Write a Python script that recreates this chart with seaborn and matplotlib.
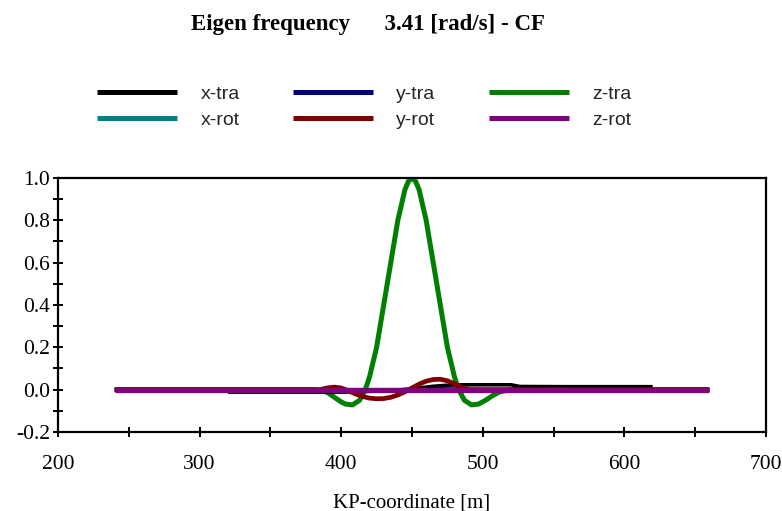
import numpy as np
import pandas as pd
import matplotlib
matplotlib.use("Agg")
import matplotlib.pyplot as plt
from matplotlib.ticker import MultipleLocator, FuncFormatter
from matplotlib.lines import Line2D
import seaborn as sns

# Mode shape components along the pipeline (KP-coordinate in m)
kp_x_tra = [320, 360, 400, 420, 440, 455, 465, 475, 485, 500, 520, 526, 560, 600, 620]
x_tra = [-0.012, -0.012, -0.012, -0.008, -0.002, 0.008, 0.016, 0.021, 0.023, 0.023, 0.023,
         0.015, 0.014, 0.014, 0.014]

kp_y_tra = [240, 400, 430, 450, 470, 500, 660]
y_tra = [0.0, 0.0, -0.004, 0.0, 0.004, 0.0, 0.0]

kp_x_rot = [240, 660]
x_rot = [0.0, 0.0]

kp_y_rot = [240, 385, 390, 395, 400, 405, 410, 415, 420, 425, 430, 435, 440, 445,
            450, 455, 460, 465, 470, 475, 480, 485, 490, 660]
y_rot = [0.0, 0.0, 0.008, 0.012, 0.008, -0.005, -0.02, -0.032, -0.04, -0.043, -0.042,
         -0.036, -0.025, -0.01, 0.008, 0.026, 0.04, 0.048, 0.049, 0.042, 0.028, 0.012, 0.0, 0.0]

kp_z_tra = [240, 380, 385, 390, 395, 400, 403, 408, 413, 417, 420, 425, 430, 432.5, 435,
            440, 445, 447.5, 450, 452.5, 455, 460, 465, 467.5, 470, 475, 480, 483, 487, 492,
            497, 502, 507, 512, 520, 660]
z_tra = [0.0, 0.0, -0.003, -0.012, -0.035, -0.058, -0.068, -0.072, -0.05, 0.0, 0.06, 0.2,
         0.4, 0.5, 0.6, 0.8, 0.945, 0.985, 1.0, 0.985, 0.945, 0.8, 0.6, 0.5, 0.4, 0.2, 0.06,
         0.0, -0.05, -0.072, -0.068, -0.05, -0.028, -0.01, 0.0, 0.0]

kp_z_rot = [240, 660]
z_rot = [0.0, 0.0]

series_names = ["x-tra", "x-rot", "y-tra", "y-rot", "z-tra", "z-rot"]
colors = {"x-tra": "#000000", "x-rot": "#008080", "y-tra": "#000080",
          "y-rot": "#800000", "z-tra": "#008000", "z-rot": "#800080"}

data = {
    "x-tra": (kp_x_tra, x_tra),
    "x-rot": (kp_x_rot, x_rot),
    "y-tra": (kp_y_tra, y_tra),
    "y-rot": (kp_y_rot, y_rot),
    "z-tra": (kp_z_tra, z_tra),
    "z-rot": (kp_z_rot, z_rot),
}

frames = []
for name, (kp, val) in data.items():
    frames.append(pd.DataFrame({"KP": kp, "value": val, "component": name}))
df = pd.concat(frames, ignore_index=True)

sns.set_style("white")
plt.rcParams["font.family"] = ["Liberation Serif", "DejaVu Serif"]

fig = plt.figure(figsize=(7.82, 5.11), dpi=100)
ax = fig.add_axes([58 / 782, 1 - 432 / 511, (766 - 58) / 782, (432 - 178) / 511])

# drawing order: green below, purple on top
draw_order = ["z-tra", "x-rot", "y-tra", "x-tra", "y-rot", "z-rot"]
widths = {"z-tra": 3.6, "x-rot": 3.0, "y-tra": 2.6, "x-tra": 2.6, "y-rot": 3.4, "z-rot": 3.8}
for name in draw_order:
    sub = df[df["component"] == name]
    sns.lineplot(data=sub, x="KP", y="value", color=colors[name], lw=widths[name],
                 ax=ax, sort=False, estimator=None, legend=False,
                 solid_capstyle="butt", solid_joinstyle="round")

ax.set_xlim(200, 700)
ax.set_ylim(-0.2, 1.0)
ax.xaxis.set_major_locator(MultipleLocator(100))
ax.xaxis.set_minor_locator(MultipleLocator(50))
ax.yaxis.set_major_locator(MultipleLocator(0.2))
ax.yaxis.set_minor_locator(MultipleLocator(0.1))
ax.yaxis.set_major_formatter(FuncFormatter(lambda v, p: f"{v:.1f}".replace("\u2212", "-")))
ax.xaxis.set_major_formatter(FuncFormatter(lambda v, p: f"{v:.0f}"))

for s in ax.spines.values():
    s.set_color("black")
    s.set_linewidth(1.6)

ax.tick_params(axis="x", which="both", direction="inout", length=7, width=1.4,
               pad=13, labelsize=15.5, colors="black", bottom=True)
ax.tick_params(axis="y", which="both", direction="inout", length=7, width=1.4,
               pad=2, labelsize=15.5, colors="black", left=True)

ax.set_xlabel("KP-coordinate [m]", fontsize=15, labelpad=14, color="black")
ax.set_ylabel("")

fig.text(0.471, 0.953, "Eigen frequency      3.41 [rad/s] - CF", ha="center", va="center",
         fontsize=16.5, fontweight="bold", color="black")

handles = [Line2D([0], [0], color=colors[n], lw=3.6, solid_capstyle="butt") for n in series_names]
fig.legend(handles, series_names, ncol=3, loc="center", bbox_to_anchor=(0.466, 0.79),
           frameon=False, handlelength=4.1, handletextpad=1.2, columnspacing=2.75,
           labelspacing=0.42, prop={"family": "Liberation Sans", "size": 14})

fig.savefig("out.png", dpi=100)
